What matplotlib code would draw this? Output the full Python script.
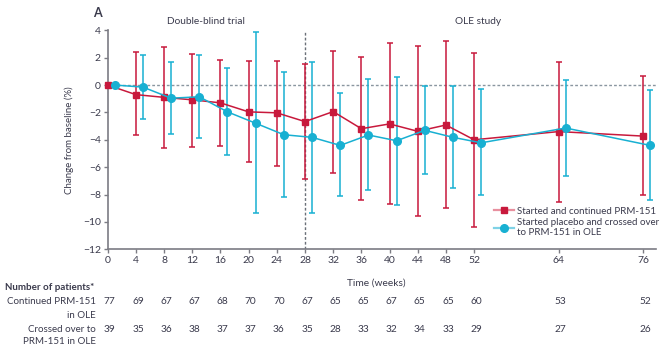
import numpy as np
import matplotlib
matplotlib.use("Agg")
import matplotlib.pyplot as plt
from matplotlib.lines import Line2D
from matplotlib.transforms import blended_transform_factory

plt.rcParams['font.family'] = ['Lato', 'DejaVu Sans']

weeks = np.array([0, 4, 8, 12, 16, 20, 24, 28, 32, 36, 40, 44, 48, 52, 64, 76])

# started and continued PRM-151
red_mean = [0, -0.7, -0.9, -1.08, -1.3, -1.96, -2.03, -2.67, -1.94, -3.19,
            -2.84, -3.38, -2.92, -4.0, -3.4, -3.73]
red_hi = [0, 2.4, 2.8, 2.28, 1.81, 1.79, 1.79, 1.52, 2.52, 2.06,
          3.06, 2.84, 3.19, 2.35, 1.72, 0.64]
red_lo = [0, -3.68, -4.6, -4.5, -4.44, -5.65, -5.9, -6.85, -6.43, -8.39,
          -8.68, -9.56, -8.95, -10.39, -8.51, -8.05]

# started placebo, crossed over
blue_mean = [0, -0.15, -0.96, -0.86, -1.96, -2.79, -3.63, -3.82, -4.41, -3.65,
             -4.07, -3.31, -3.82, -4.22, -3.14, -4.41]
blue_hi = [0, 2.2, 1.69, 2.16, 1.23, 3.87, 0.96, 1.69, -0.56, 0.44,
           0.59, -0.05, -0.07, -0.32, 0.39, -0.37]
blue_lo = [0, -2.45, -3.6, -3.85, -5.14, -9.34, -8.17, -9.34, -8.14, -7.65,
           -8.75, -6.51, -7.53, -8.07, -6.65, -8.39]

n_continued = [77, 69, 67, 67, 68, 70, 70, 67, 65, 65, 67, 65, 65, 60, 53, 52]
n_crossed = [39, 35, 36, 38, 37, 37, 36, 35, 28, 33, 32, 34, 33, 29, 27, 26]

RED = '#c8193c'
BLUE = '#18b0d2'
TXT = '#3a3a4c'
AX = '#7c7c84'
FS = 7

fig = plt.figure(figsize=(6.71, 3.49), dpi=100)
ax = fig.add_axes([0.1605, 0.2857, 0.817, 0.6275])

red_mean = np.array(red_mean)
blue_mean = np.array(blue_mean)
red_err = [red_mean - np.array(red_lo), np.array(red_hi) - red_mean]
blue_err = [blue_mean - np.array(blue_lo), np.array(blue_hi) - blue_mean]

ax.axhline(0, color='#8a96a0', lw=1, ls=(0, (2, 1.5)), zorder=1)
ax.vlines(28, -12, 3.85, color='#6a7078', lw=1, ls=(0, (2, 1.5)), zorder=1)

ax.errorbar(weeks, red_mean, yerr=red_err, color=RED, ecolor=RED,
            elinewidth=1.1, capsize=2, capthick=1.1, lw=1.1, marker='s',
            markersize=5, zorder=3, clip_on=False)
ax.errorbar(weeks + 1, blue_mean, yerr=blue_err, color=BLUE, ecolor=BLUE,
            elinewidth=1.1, capsize=2, capthick=1.1, lw=1.1, marker='o',
            markersize=5.5, zorder=3, clip_on=False)

ax.set_xlim(0, 77.8)
ax.set_ylim(-12, 4)
ax.set_xticks(weeks)
ax.set_yticks(np.arange(-12, 5, 2))
ax.set_yticklabels([str(v).replace('-', '\u2212') for v in range(-12, 5, 2)])
for s in ['top', 'right']:
    ax.spines[s].set_visible(False)
for s in ['left', 'bottom']:
    ax.spines[s].set_color(AX)
    ax.spines[s].set_linewidth(1.2)
ax.tick_params(colors=AX, labelcolor=TXT, labelsize=7.5, length=3, width=1, pad=2)
ax.set_xlabel('Time (weeks)', fontsize=FS + 0.3, color=TXT)
ax.xaxis.set_label_coords(0.49, -0.135)
ax.set_ylabel('Change from baseline (%)', fontsize=FS, color=TXT)
ax.yaxis.set_label_coords(-0.062, 0.5)

handles = [
    Line2D([], [], color='#e8909f', lw=1.6, marker='s', markersize=5,
           markerfacecolor=RED, markeredgecolor=RED),
    Line2D([], [], color='#7fd2e6', lw=1.6, marker='o', markersize=5.5,
           markerfacecolor=BLUE, markeredgecolor=BLUE),
]
labels = ['Started and continued PRM-151',
          'Started placebo and crossed over\nto PRM-151 in OLE']
leg = ax.legend(handles, labels, loc='upper left', bbox_to_anchor=(0.705, 0.195),
                frameon=False, fontsize=FS, handlelength=2.0, handletextpad=0.3,
                labelspacing=0.25, borderpad=0, borderaxespad=0)
for t in leg.get_texts():
    t.set_color(TXT)

fig.text(0.138, 0.962, 'A', fontsize=9, fontweight='bold', color=TXT,
         va='center')
ax.text(14, 4.65, 'Double-blind trial', ha='center', va='center', fontsize=FS + 0.3,
        color=TXT)
ax.text(52.5, 4.65, 'OLE study', ha='center', va='center', fontsize=FS + 0.3,
        color=TXT)

tr = blended_transform_factory(ax.transData, fig.transFigure)
fig.text(0.007, 1 - 288 / 349, 'Number of patients*', fontsize=FS,
         fontweight='bold', color=TXT, va='center')
fig.text(0.143, 1 - 302 / 349, 'Continued PRM-151', fontsize=FS, color=TXT,
         ha='right', va='center')
fig.text(0.143, 1 - 316 / 349, 'in OLE', fontsize=FS, color=TXT,
         ha='right', va='center')
fig.text(0.143, 1 - 329 / 349, 'Crossed over to', fontsize=FS, color=TXT,
         ha='right', va='center')
fig.text(0.143, 1 - 342 / 349, 'PRM-151 in OLE', fontsize=FS, color=TXT,
         ha='right', va='center')
for w, a, b in zip(weeks, n_continued, n_crossed):
    fig.text(w + 0.3, 1 - 302 / 349, str(a), transform=tr, fontsize=FS + 0.3,
             color=TXT, ha='center', va='center')
    fig.text(w + 0.3, 1 - 329 / 349, str(b), transform=tr, fontsize=FS + 0.3,
             color=TXT, ha='center', va='center')

fig.savefig('out.png', dpi=100)
